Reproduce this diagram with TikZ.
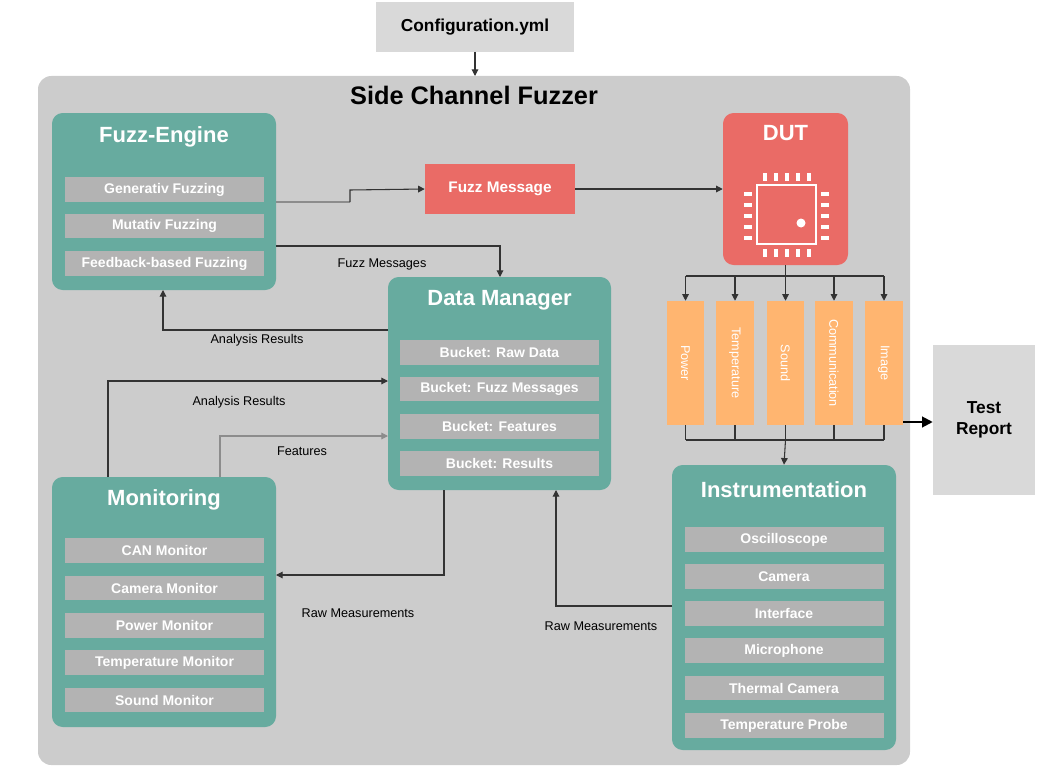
\documentclass[tikz,border=0pt]{standalone}
\usepackage{fontspec}
\setmainfont{Liberation Sans}
\usetikzlibrary{arrows.meta}
\definecolor{teal1}{HTML}{67AB9F}
\definecolor{red1}{HTML}{EA6B66}
\definecolor{org}{HTML}{FFB570}
\definecolor{panel}{HTML}{CCCCCC}
\definecolor{lgray}{HTML}{D9D9D9}
\definecolor{item}{HTML}{B3B3B3}
\begin{document}
\begin{tikzpicture}[x=0.75pt,y=-0.75pt,
 grp/.style={fill=teal1,rounded corners=8pt,draw=none},
 it/.style={fill=item,draw=none,minimum width=149.25pt,minimum height=18.5pt,inner sep=0,text=white,font=\bfseries\fontsize{10.5}{11}\selectfont},
 ttl/.style={text=white,font=\bfseries\fontsize{16.5}{18}\selectfont},
 sen/.style={fill=org,draw=none,minimum width=28pt,minimum height=93pt,inner sep=0},
 stxt/.style={text=white,rotate=-90,inner sep=0,font=\fontsize{9.5}{10}\selectfont},
 lbl/.style={font=\fontsize{9.5}{10}\selectfont},
 arr/.style={draw=black!80,line width=0.8pt,-{Triangle[length=5pt,width=5pt]}},
 ln/.style={draw=black!80,line width=0.8pt}]
\useasboundingbox (0,0) rectangle (1059,774);
\node[fill=lgray,minimum width=148.5pt,minimum height=37pt,inner sep=0,font=\bfseries\fontsize{13}{14}\selectfont] (cfg) at (475,27) {Configuration.yml};
\fill[panel,rounded corners=10pt] (38,76) rectangle (910,765);
\node[font=\bfseries\fontsize{19}{20}\selectfont] (title) at (474,95) {Side Channel Fuzzer};
\coordinate (pt) at (475,76);
\draw[arr] (cfg.south) -- (pt);
% Fuzz engine
\path[grp] (52,113) rectangle (276,290);
\node[inner sep=0,minimum width=168pt,minimum height=132.75pt] (fe) at (164,201.5) {};
\node[ttl] (fet) at (164,137) {Fuzz-Engine};
\node[it] (g1) at (164.5,189.5) {Generativ Fuzzing};
\node[it] (g2) at (164.5,226) {Mutativ Fuzzing};
\node[it] (g3) at (164.5,263.5) {Feedback-based Fuzzing};
% Fuzz message
\node[fill=red1,minimum width=112.5pt,minimum height=37.5pt,inner sep=0,text=white,font=\bfseries\fontsize{11.5}{12}\selectfont] (fm) at (500,189) {Fuzz Message};
% DUT
\path[fill=red1,rounded corners=8pt] (723,113) rectangle (848,265);
\node[inner sep=0,minimum width=93.75pt,minimum height=114pt] (dut) at (785.5,189) {};
\node[ttl] at (785.5,133) {DUT};
\draw[white,line width=2.2pt] (757,185) rectangle (816,244);
\fill[white] (801,223) circle (4.5);
\foreach \i in {0,...,4}{
 \fill[white] (763+\i*11,173) rectangle (767+\i*11,181);
 \fill[white] (763+\i*11,249) rectangle (767+\i*11,257);
 \fill[white] (744,192+\i*11) rectangle (752,196+\i*11);
 \fill[white] (821,192+\i*11) rectangle (829,196+\i*11);
}
% sensors
\foreach \n/\x/\t in {s1/685.5/Power,s2/735/Temperature,s3/785.5/Sound,s4/834/Communication,s5/884/Image}{
 \node[sen] (\n) at (\x,363) {};
 \node[stxt] at (\x,363) {\t};
}
\coordinate (bt) at (785.5,276);
\coordinate (bb) at (785.5,440);
\draw[ln] (dut.south) -- (bt);
\draw[ln] (s1.north|-bt) -- (s5.north|-bt);
\foreach \s in {s1,s2,s3,s4,s5}{\draw[arr] (\s.north|-bt) -- (\s.north);}
\foreach \s in {s1,s2,s3,s4,s5}{\draw[ln] (\s.south) -- (\s.south|-bb);}
\draw[ln] (s1.south|-bb) -- (s5.south|-bb);
% Test report
\node[fill=lgray,minimum width=76.5pt,minimum height=112.5pt,inner sep=0,align=center,font=\bfseries\fontsize{13}{16}\selectfont] (tr) at (984,420) {Test\\Report};
\coordinate (tx) at (903,422);
\draw[line width=1.5pt,-{Triangle[length=8pt,width=8pt]}] (tx) -- (tx-|tr.west);
% Instrumentation
\path[grp] (672,465) rectangle (896,750);
\node[inner sep=0,minimum width=168pt,minimum height=213.75pt] (ins) at (784,607.5) {};
\node[ttl] at (784,490) {Instrumentation};
\node[it] at (784,539.5) {Oscilloscope};
\node[it] at (784,576.5) {Camera};
\node[it] at (784,613.5) {Interface};
\node[it] at (784,650.5) {Microphone};
\node[it] at (784,688) {Thermal Camera};
\node[it] at (784,725.5) {Temperature Probe};
\draw[arr] (bb) -- (ins.north);
% Data manager
\path[grp] (388,277) rectangle (611,490);
\node[inner sep=0,minimum width=167.25pt,minimum height=159.75pt] (dm) at (499.5,383.5) {};
\node[ttl] at (499.5,300) {Data Manager};
\node[it] at (499.5,352.5) {Bucket: Raw Data};
\node[it] at (499.5,389) {Bucket: Fuzz Messages};
\node[it] at (499.5,426.5) {Bucket: Features};
\node[it] at (499.5,463.5) {Bucket: Results};
% Monitoring
\path[grp] (52,477) rectangle (276,727);
\node[inner sep=0,minimum width=168pt,minimum height=187.5pt] (mon) at (164,602) {};
\node[ttl] at (164,500) {Monitoring};
\node[it] at (164.5,550.5) {CAN Monitor};
\node[it] at (164.5,588) {Camera Monitor};
\node[it] at (164.5,625.5) {Power Monitor};
\node[it] at (164.5,662.5) {Temperature Monitor};
\node[it] at (164.5,700) {Sound Monitor};
% connectors
\draw[ln,draw=black!45] (276,202) -- (350,202);
\draw[arr] (350,202) -- (350,190) -- (fm.west);
\draw[arr] (fm.east) -- (dut.west|-fm.east);
\draw[arr] (276,246) -- (500,246) -- (500,277);
\node[lbl] at (382,264) {Fuzz Messages};
\draw[arr] (388,330) -- (163,330) -- (163,290);
\node[lbl] at (257,340) {Analysis Results};
\draw[arr] (108,477) -- (108,381) -- (388,381);
\node[lbl] at (239,402) {Analysis Results};
\draw[arr,draw=black!45] (220,477) -- (220,436) -- (388,436);
\node[lbl] at (302,451) {Features};
\draw[arr] (444,490) -- (444,575) -- (276,575);
\node[lbl] at (358,613) {Raw Measurements};
\draw[arr] (672,606) -- (556,606) -- (556,490);
\node[lbl] at (601,626) {Raw Measurements};
\end{tikzpicture}
\end{document}
